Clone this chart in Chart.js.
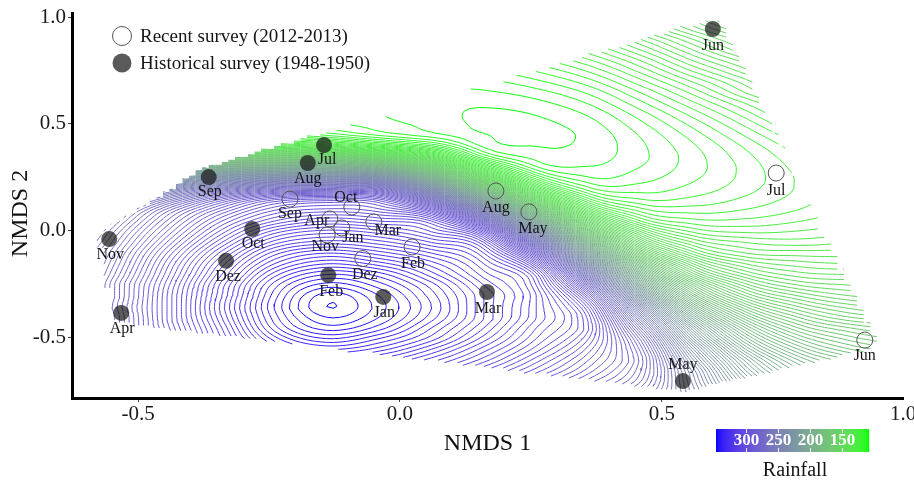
<!DOCTYPE html>
<html>
<head>
<meta charset="utf-8">
<script src="https://cdn.jsdelivr.net/npm/chart.js@4.4.1/dist/chart.umd.min.js"></script>
<style>
  html, body { margin: 0; padding: 0; background: #fff; }
</style>
</head>
<body>
<canvas id="nmdsChart" width="914" height="482"></canvas>
<script>
// sample scores on the two NMDS axes
const recentLabels = ["Jun", "Jul", "Aug", "Sep", "Oct", "Nov", "Dez", "Jan", "Feb", "Mar", "Apr", "May"];
const recentX = [0.887, 0.718, 0.183, -0.210, -0.092, -0.139, -0.071, -0.111, 0.023, -0.050, -0.134, 0.246];
const recentY = [-0.512, 0.270, 0.186, 0.148, 0.111, -0.020, -0.130, 0.013, -0.076, 0.041, 0.055, 0.088];

const historicLabels = ["Jun", "Jul", "Aug", "Sep", "Oct", "Nov", "Dez", "Jan", "Feb", "Mar", "Apr", "May"];
const historicX = [0.597, -0.145, -0.176, -0.365, -0.282, -0.555, -0.332, -0.032, -0.137, 0.166, -0.532, 0.540];
const historicY = [0.944, 0.401, 0.317, 0.251, 0.008, -0.039, -0.141, -0.310, -0.208, -0.287, -0.385, -0.704];

const xTicks = [-0.5, 0.0, 0.5, 1.0];
const yTicks = [-0.5, 0.0, 0.5, 1.0];
const rainTicks = [300, 250, 200, 150];
const rainMin = 108, rainMax = 346, rainStep = 2;

// fitted rainfall surface (mm), rows from top (NMDS 2 = 1.045) to bottom
const gridX = [-0.64, -0.54, -0.44, -0.34, -0.24, -0.14, -0.04, 0.06, 0.16, 0.26, 0.36, 0.46, 0.56, 0.66, 0.76, 0.86, 0.96];
const gridY = [1.045, 0.995, 0.945, 0.895, 0.845, 0.795, 0.745, 0.695, 0.645, 0.595, 0.545, 0.495, 0.445, 0.395,
  0.345, 0.295, 0.245, 0.195, 0.145, 0.095, 0.045, -0.005, -0.055, -0.105, -0.155, -0.205, -0.255, -0.305,
  -0.355, -0.405, -0.455, -0.505, -0.555, -0.605, -0.655, -0.705, -0.755];
const rainGrid = [
  [111.7, 113.6, 115.8, 118.5, 121.6, 125.0, 128.5, 132, 135, 139, 144, 152, 160, 168, 177, 185, 194],
  [110.4, 111.7, 113.5, 115.8, 118.5, 121.5, 124.8, 127.7, 131, 134, 140, 147, 155, 164, 172, 180, 189],
  [109.7, 110.4, 111.7, 113.5, 115.7, 118.4, 121.3, 124.0, 126.5, 130, 135, 143, 151, 159, 167, 175, 184],
  [109.6, 109.7, 110.4, 111.7, 113.5, 115.7, 118.2, 120.6, 122.8, 126.3, 131, 138, 146, 154, 162, 171, 179],
  [110.0, 109.6, 109.7, 110.4, 111.6, 113.4, 115.5, 117.6, 119.4, 122.6, 127.2, 134, 142, 150, 158, 166, 174],
  [111.1, 110.0, 109.6, 109.7, 110.4, 111.6, 113.2, 114.7, 116.3, 119.1, 123.5, 130, 138, 145, 153, 161, 169],
  [112.7, 111.1, 110.0, 109.6, 109.7, 110.3, 111.4, 112.5, 113.6, 116.0, 120.1, 126.5, 134, 141, 149, 157, 165],
  [114.8, 112.7, 111.1, 110.0, 109.6, 109.7, 110.2, 110.7, 111.3, 113.4, 117.0, 123.1, 130.0, 137, 145, 152, 160],
  [117.3, 114.8, 112.7, 111.1, 110.1, 109.6, 109.5, 109.5, 109.6, 111.1, 114.3, 120.0, 126.6, 134, 141, 148, 156],
  [120.3, 117.4, 114.9, 112.8, 111.2, 110.1, 109.5, 108.8, 108.3, 109.3, 112.1, 117.4, 123.5, 130, 137, 144, 152],
  [124.4, 120.6, 117.4, 114.9, 112.8, 111.2, 110.0, 108.7, 107.7, 108.1, 110.3, 115.1, 120.8, 127.0, 134, 141, 148],
  [131, 126.4, 121.9, 118.0, 115.1, 112.8, 111.1, 109.3, 107.6, 107.5, 109.1, 113.4, 118.6, 124.4, 131, 137, 144],
  [141, 137, 132, 126.8, 122.1, 118.2, 114.1, 111.1, 108.2, 107.4, 108.5, 112.2, 116.9, 122.2, 128.0, 134, 141],
  [153, 152, 148, 145, 140, 135, 128.1, 120.6, 109.6, 108.0, 108.5, 111.6, 115.7, 120.4, 125.7, 132, 138],
  [168, 170, 171, 171, 169, 166, 157, 140, 115.9, 109.2, 109.0, 111.5, 115.1, 119.3, 124.0, 129.3, 135],
  [184, 191, 197, 201, 203, 203, 196, 168, 131, 112.6, 110.2, 112.1, 115.1, 118.7, 122.9, 127.6, 133],
  [200, 211, 223, 233, 239, 240, 237, 201, 153, 121.2, 112.4, 113.3, 115.7, 118.7, 122.3, 126.5, 131],
  [214, 229, 245, 258, 267, 269, 268, 235, 182, 135, 117.0, 115.1, 116.8, 119.3, 122.3, 125.9, 130],
  [225, 243, 260, 275, 286, 289, 287, 264, 214, 155, 125.1, 118.2, 118.6, 120.5, 122.9, 125.9, 129.5],
  [233, 252, 270, 284, 294, 297, 295, 285, 246, 180, 137, 123.2, 121.2, 122.2, 124.1, 126.6, 129.6],
  [238, 257, 275, 290, 300, 304, 302, 298, 272, 207, 153, 130, 124.8, 124.6, 125.9, 127.8, 130],
  [241, 261, 279, 295, 307, 311, 309, 304, 291, 235, 171, 140, 129.7, 127.7, 128.2, 129.5, 131],
  [244, 264, 283, 300, 313, 317, 315, 310, 302, 260, 192, 151, 136, 132, 131, 132, 133],
  [247, 267, 287, 305, 319, 324, 321, 316, 308, 280, 213, 164, 143, 136, 135, 135, 135],
  [249, 269, 290, 309, 324, 330, 327, 321, 312, 294, 234, 179, 152, 142, 139, 138, 138],
  [250, 271, 292, 312, 329, 336, 333, 325, 315, 303, 253, 194, 161, 148, 143, 142, 142],
  [251, 273, 294, 315, 333, 341, 337, 329, 318, 306, 269, 209, 172, 155, 148, 146, 145],
  [252, 273, 295, 316, 335, 345, 340, 331, 320, 308, 281, 224, 182, 162, 154, 150, 149],
  [252, 274, 295, 317, 336, 346, 341, 332, 320, 308, 289, 238, 193, 170, 160, 155, 153],
  [252, 273, 295, 316, 335, 344, 340, 331, 320, 308, 293, 249, 204, 178, 166, 160, 158],
  [251, 273, 294, 314, 333, 341, 337, 328, 318, 306, 294, 258, 214, 186, 172, 166, 163],
  [250, 271, 292, 312, 329, 336, 332, 325, 315, 304, 292, 265, 222, 193, 178, 171, 167],
  [248, 269, 289, 308, 324, 330, 327, 320, 311, 301, 289, 269, 230, 200, 184, 176, 172],
  [246, 267, 286, 304, 318, 323, 321, 315, 307, 297, 286, 271, 236, 207, 190, 182, 177],
  [244, 264, 283, 300, 312, 317, 315, 310, 302, 293, 283, 270, 241, 212, 195, 187, 182],
  [241, 260, 279, 295, 306, 310, 308, 304, 297, 288, 279, 268, 243, 217, 200, 192, 187],
  [238, 257, 274, 289, 300, 303, 302, 298, 291, 283, 274, 264, 245, 221, 205, 196, 191]
];

const xMin = -0.626, xMax = 0.960, yMin = -0.783, yMax = 1.019;
const plotW = 831, plotH = 385;
const kx = plotW / (xMax - xMin), ky = plotH / (yMax - yMin);

// label nudges in pixels
const recentShift = [[0, 16], [0, 18], [0, 17], [0, 15], [-6, -9], [-2, 12], [2, 16], [11, 10], [1, 17], [14, 9], [-13, 2], [4, 17]];
const historicShift = [[0, 17], [3, 15], [0, 16], [1, 15], [1, 15], [1, 16], [2, 16], [1, 16], [3, 17], [1, 17], [1, 16], [0, -16]];

const serif = '"Liberation Serif", "Times New Roman", serif';

// green -> blue ramp interpolated in Lab
function toLin(c) { c /= 255; return c <= 0.04045 ? c / 12.92 : Math.pow((c + 0.055) / 1.055, 2.4); }
function fromLin(c) { c = c <= 0.0031308 ? 12.92 * c : 1.055 * Math.pow(c, 1 / 2.4) - 0.055; return Math.round(Math.max(0, Math.min(1, c)) * 255); }
function rgb2lab(r, g, b) {
  r = toLin(r); g = toLin(g); b = toLin(b);
  let X = (0.4124 * r + 0.3576 * g + 0.1805 * b) / 0.95047;
  let Y = 0.2126 * r + 0.7152 * g + 0.0722 * b;
  let Z = (0.0193 * r + 0.1192 * g + 0.9505 * b) / 1.08883;
  const f = t => t > 0.008856 ? Math.cbrt(t) : 7.787 * t + 16 / 116;
  X = f(X); Y = f(Y); Z = f(Z);
  return [116 * Y - 16, 500 * (X - Y), 200 * (Y - Z)];
}
function lab2rgb(L, a, b) {
  let Y = (L + 16) / 116, X = a / 500 + Y, Z = Y - b / 200;
  const fi = t => t ** 3 > 0.008856 ? t ** 3 : (t - 16 / 116) / 7.787;
  X = fi(X) * 0.95047; Y = fi(Y); Z = fi(Z) * 1.08883;
  const r = 3.2406 * X - 1.5372 * Y - 0.4986 * Z;
  const g = -0.9689 * X + 1.8758 * Y + 0.0415 * Z;
  const bb = 0.0557 * X - 0.2040 * Y + 1.0570 * Z;
  return [fromLin(r), fromLin(g), fromLin(bb)];
}
const labLow = rgb2lab(0, 255, 0), labHigh = rgb2lab(0, 0, 255);
function rainColor(v) {
  const t = Math.max(0, Math.min(1, (v - rainMin) / (rainMax - rainMin)));
  const c = lab2rgb(labLow[0] + t * (labHigh[0] - labLow[0]), labLow[1] + t * (labHigh[1] - labLow[1]), labLow[2] + t * (labHigh[2] - labLow[2]));
  return `rgb(${c[0]},${c[1]},${c[2]})`;
}

// cubic resampling of the grid: Catmull-Rom along x, monotone along y
function cubicCurve(vals, h, monotone) {
  const n = vals.length, dl = [], m = new Array(n);
  for (let i = 0; i < n - 1; i++) dl.push((vals[i + 1] - vals[i]) / h);
  m[0] = dl[0]; m[n - 1] = dl[n - 2];
  for (let i = 1; i < n - 1; i++) m[i] = (monotone && dl[i - 1] * dl[i] <= 0) ? 0 : (dl[i - 1] + dl[i]) / 2;
  if (monotone) {
    for (let i = 0; i < n - 1; i++) {
      if (dl[i] === 0) { m[i] = 0; m[i + 1] = 0; continue; }
      const a = m[i] / dl[i], b = m[i + 1] / dl[i], s = a * a + b * b;
      if (s > 9) { const t = 3 / Math.sqrt(s); m[i] = t * a * dl[i]; m[i + 1] = t * b * dl[i]; }
    }
  }
  return u => {
    const i = Math.min(n - 2, Math.max(0, Math.floor(u)));
    const t = u - i, t2 = t * t, t3 = t2 * t;
    return (2 * t3 - 3 * t2 + 1) * vals[i] + (t3 - 2 * t2 + t) * h * m[i] +
      (-2 * t3 + 3 * t2) * vals[i + 1] + (t3 - t2) * h * m[i + 1];
  };
}

const gx = gridX, gy = gridY.slice().reverse(), gv = rainGrid.slice().reverse();
const hx = gx[1] - gx[0], hy = gy[1] - gy[0];
const fineX = [], fineY = [];
for (let x = gx[0]; x <= gx[gx.length - 1] + 1e-9; x += 0.0125) fineX.push(x);
for (let y = gy[0]; y <= gy[gy.length - 1] + 1e-9; y += 0.0125) fineY.push(y);
const rowsX = gv.map(row => { const c = cubicCurve(row, hx, false); return fineX.map(x => c((x - gx[0]) / hx)); });
const field = fineY.map(() => new Array(fineX.length));
for (let i = 0; i < fineX.length; i++) {
  const c = cubicCurve(rowsX.map(r => r[i]), hy, true);
  fineY.forEach((y, j) => { field[j][i] = c((y - gy[0]) / hy); });
}

// surface is only drawn over the area spanned by the samples
const pts = recentX.map((x, i) => [x * kx, recentY[i] * ky]).concat(historicX.map((x, i) => [x * kx, historicY[i] * ky]));
function hullOf(p) {
  p = p.slice().sort((a, b) => a[0] - b[0] || a[1] - b[1]);
  const cross = (o, a, b) => (a[0] - o[0]) * (b[1] - o[1]) - (a[1] - o[1]) * (b[0] - o[0]);
  const lo = [], up = [];
  for (const q of p) { while (lo.length >= 2 && cross(lo[lo.length - 2], lo[lo.length - 1], q) <= 0) lo.pop(); lo.push(q); }
  for (const q of p.slice().reverse()) { while (up.length >= 2 && cross(up[up.length - 2], up[up.length - 1], q) <= 0) up.pop(); up.push(q); }
  return lo.slice(0, -1).concat(up.slice(0, -1));
}
const hull = hullOf(pts);
function insideArea(x, y) {
  const q = [x * kx, y * ky];
  let inside = false, best = Infinity;
  for (let i = 0, j = hull.length - 1; i < hull.length; j = i++) {
    const a = hull[i], b = hull[j];
    if ((a[1] > q[1]) !== (b[1] > q[1]) && q[0] < (b[0] - a[0]) * (q[1] - a[1]) / (b[1] - a[1]) + a[0]) inside = !inside;
    const dx = b[0] - a[0], dy = b[1] - a[1];
    const t = Math.max(0, Math.min(1, ((q[0] - a[0]) * dx + (q[1] - a[1]) * dy) / (dx * dx + dy * dy)));
    best = Math.min(best, Math.hypot(q[0] - a[0] - t * dx, q[1] - a[1] - t * dy));
  }
  return inside || best < 10;
}
const cellIn = [];
for (let j = 0; j < fineY.length - 1; j++) {
  cellIn.push([]);
  for (let i = 0; i < fineX.length - 1; i++) cellIn[j].push(insideArea((fineX[i] + fineX[i + 1]) / 2, (fineY[j] + fineY[j + 1]) / 2));
}

// marching squares for one level
function contourAt(level) {
  const out = [];
  for (let j = 0; j < fineY.length - 1; j++) {
    for (let i = 0; i < fineX.length - 1; i++) {
      if (!cellIn[j][i]) continue;
      const a = field[j][i], b = field[j][i + 1], c = field[j + 1][i + 1], d = field[j + 1][i];
      const x0 = fineX[i], x1 = fineX[i + 1], y0 = fineY[j], y1 = fineY[j + 1];
      const e = [];
      if ((a < level) !== (b < level)) e.push({ x: x0 + (level - a) / (b - a) * (x1 - x0), y: y0 });
      if ((b < level) !== (c < level)) e.push({ x: x1, y: y0 + (level - b) / (c - b) * (y1 - y0) });
      if ((c < level) !== (d < level)) e.push({ x: x1 + (level - c) / (d - c) * (x0 - x1), y: y1 });
      if ((d < level) !== (a < level)) e.push({ x: x0, y: y1 + (level - d) / (a - d) * (y0 - y1) });
      const gap = { x: x0, y: null };
      if (e.length === 2) out.push(e[0], e[1], gap);
      else if (e.length === 4) {
        const mid = (a + b + c + d) / 4;
        if ((mid < level) === (a < level)) out.push(e[0], e[1], gap, e[2], e[3], gap);
        else out.push(e[3], e[0], gap, e[1], e[2], gap);
      }
    }
  }
  return out;
}

const contourSets = [];
for (let lev = rainMin; lev <= rainMax; lev += rainStep) {
  const data = contourAt(lev);
  if (!data.length) continue;
  contourSets.push({
    data, showLine: true, spanGaps: false, pointRadius: 0, borderWidth: 1,
    borderColor: rainColor(lev), order: 2, tension: 0
  });
}

const recentSet = {
  data: recentX.map((x, i) => ({ x, y: recentY[i] })),
  pointRadius: 8, pointBorderWidth: 1, pointBorderColor: '#555',
  pointBackgroundColor: 'rgba(0,0,0,0)', order: 1, showLine: false
};
const historicSet = {
  data: historicX.map((x, i) => ({ x, y: historicY[i] })),
  pointRadius: 8, pointBorderWidth: 0, pointBorderColor: 'rgba(0,0,0,0)',
  pointBackgroundColor: 'rgba(22,22,22,0.7)', order: 1, showLine: false
};
const nRecent = contourSets.length, nHistoric = contourSets.length + 1;

const extrasPlugin = {
  id: 'extras',
  afterDatasetsDraw(chart) {
    const c = chart.ctx;
    c.save();
    c.font = `16px ${serif}`;
    c.fillStyle = '#151515';
    c.textAlign = 'center';
    c.textBaseline = 'middle';
    chart.getDatasetMeta(nRecent).data.forEach((p, i) => {
      c.fillText(recentLabels[i], p.x + recentShift[i][0], p.y + recentShift[i][1]);
    });
    chart.getDatasetMeta(nHistoric).data.forEach((p, i) => {
      c.fillText(historicLabels[i], p.x + historicShift[i][0], p.y + historicShift[i][1]);
    });
    c.restore();
  },
  afterDraw(chart) {
    const c = chart.ctx, area = chart.chartArea;
    c.save();
    // axis titles
    c.fillStyle = '#111';
    c.font = `24px ${serif}`;
    c.textAlign = 'center';
    c.textBaseline = 'middle';
    c.fillText('NMDS 1', (area.left + area.right) / 2, 444);
    c.save();
    c.translate(21, (area.top + area.bottom) / 2 + 8);
    c.rotate(-Math.PI / 2);
    c.fillText('NMDS 2', 0, 0);
    c.restore();
    // legend
    c.lineWidth = 1;
    c.strokeStyle = '#555';
    c.beginPath(); c.arc(122, 36, 9.5, 0, Math.PI * 2); c.stroke();
    c.fillStyle = '#5a5a5a';
    c.beginPath(); c.arc(122, 63, 9.5, 0, Math.PI * 2); c.fill();
    c.fillStyle = '#151515';
    c.font = `19px ${serif}`;
    c.textAlign = 'left';
    c.fillText('Recent survey (2012-2013)', 140, 37);
    c.fillText('Historical survey (1948-1950)', 140, 64);
    // colour bar
    const bl = 716, br = 869, bt = 429, bb = 452;
    const valAt = px => rainMax - (px - bl) / (br - bl) * (rainMax - rainMin);
    const pxAt = v => bl + (rainMax - v) / (rainMax - rainMin) * (br - bl);
    for (let px = bl; px < br; px++) {
      c.fillStyle = rainColor(valAt(px + 0.5));
      c.fillRect(px, bt, 1.2, bb - bt);
    }
    c.strokeStyle = 'rgba(255,255,255,0.9)';
    c.fillStyle = '#fff';
    c.font = `bold 17px ${serif}`;
    c.textAlign = 'center';
    rainTicks.forEach(v => {
      const px = Math.round(pxAt(v)) + 0.5;
      c.beginPath(); c.moveTo(px, bt); c.lineTo(px, bt + 4); c.moveTo(px, bb - 4); c.lineTo(px, bb); c.stroke();
      c.fillText(String(v), px, 441);
    });
    c.fillStyle = '#151515';
    c.font = `20px ${serif}`;
    c.fillText('Rainfall', 795, 471);
    c.restore();
  }
};

const tickFont = { family: serif, size: 21 };
new Chart(document.getElementById('nmdsChart').getContext('2d'), {
  type: 'scatter',
  data: { datasets: [...contourSets, recentSet, historicSet] },
  options: {
    responsive: false,
    animation: false,
    events: [],
    layout: { padding: { left: 0, right: 11, top: 13, bottom: 0 } },
    scales: {
      x: {
        type: 'linear', min: xMin, max: xMax,
        afterBuildTicks: s => { s.ticks = xTicks.map(v => ({ value: Math.min(v, xMax) })); },
        afterFit: s => { s.height = 84; s.paddingLeft = 0; s.paddingRight = 0; },
        ticks: { callback: (v, i) => xTicks[i].toFixed(1), font: tickFont, color: '#1a1a1a', padding: 0, autoSkip: false, maxRotation: 0 },
        grid: { drawOnChartArea: false, drawTicks: true, tickLength: 4, color: c => c.index === xTicks.length - 1 ? 'rgba(0,0,0,0)' : '#444' },
        border: { display: true, color: '#000', width: 3 }
      },
      y: {
        type: 'linear', min: yMin, max: yMax,
        afterBuildTicks: s => { s.ticks = yTicks.map(v => ({ value: v })); },
        afterFit: s => { s.width = 72; s.paddingTop = 0; s.paddingBottom = 0; },
        ticks: { callback: v => v.toFixed(1), font: tickFont, color: '#1a1a1a', padding: 2, autoSkip: false },
        grid: { drawOnChartArea: false, drawTicks: true, tickLength: 4, color: '#444' },
        border: { display: true, color: '#000', width: 3 }
      }
    },
    plugins: { legend: { display: false }, tooltip: { enabled: false } }
  },
  plugins: [extrasPlugin]
});
</script>
</body>
</html>
